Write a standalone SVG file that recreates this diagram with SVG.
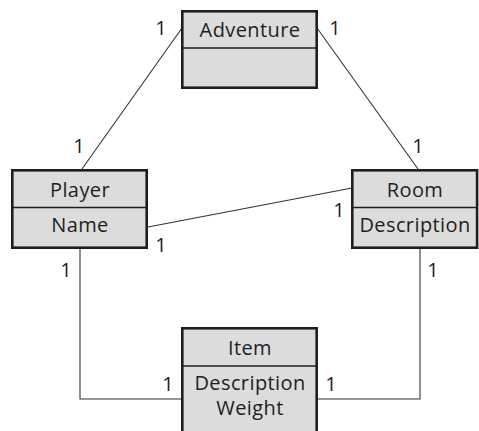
<svg xmlns="http://www.w3.org/2000/svg" width="479" height="431" viewBox="0 0 479 431">
  <style>
    .box { fill: #dcdcdc; stroke: #1e1e1e; stroke-width: 2.6; }
    .div { stroke: #1e1e1e; stroke-width: 1.5; }
    .name { font-family: "Open Sans", "Noto Sans", sans-serif; font-size: 20px; fill: #1e1e1e; text-anchor: middle; letter-spacing: 0.4px; }
    .mult { font-family: "Open Sans", "Noto Sans", sans-serif; font-size: 20px; fill: #1e1e1e; text-anchor: middle; }
    .conn { fill: none; stroke: #333; stroke-width: 1.1; }
  </style>
  <rect width="479" height="431" fill="#ffffff"/>

  <g id="connectors">
    <line class="conn" x1="182" y1="28" x2="82" y2="169"/>
    <line class="conn" x1="317" y1="28" x2="418" y2="169"/>
    <line class="conn" x1="148" y1="227" x2="352" y2="188"/>
    <polyline class="conn" points="80,249 80,399 182,399"/>
    <polyline class="conn" points="420,249 420,399 317,399"/>
  </g>

  <g id="multiplicities">
    <text class="mult" x="161" y="35">1</text>
    <text class="mult" x="335" y="35">1</text>
    <text class="mult" x="79" y="153">1</text>
    <text class="mult" x="418" y="153">1</text>
    <text class="mult" x="339" y="217">1</text>
    <text class="mult" x="161" y="252">1</text>
    <text class="mult" x="66" y="277">1</text>
    <text class="mult" x="433" y="277">1</text>
    <text class="mult" x="168" y="391">1</text>
    <text class="mult" x="331" y="391">1</text>
  </g>

  <g id="adventure">
    <rect class="box" x="182.3" y="11.3" width="134.4" height="76.4"/>
    <line class="div" x1="182" y1="48" x2="317" y2="48"/>
    <text class="name" x="250" y="37">Adventure</text>
  </g>

  <g id="player">
    <rect class="box" x="12.3" y="170.3" width="134.4" height="77.4"/>
    <line class="div" x1="12" y1="207.5" x2="147" y2="207.5"/>
    <text class="name" x="80" y="197">Player</text>
    <text class="name" x="80" y="232">Name</text>
  </g>

  <g id="room">
    <rect class="box" x="352.3" y="170.3" width="124.8" height="77.4"/>
    <line class="div" x1="352" y1="207.5" x2="477" y2="207.5"/>
    <text class="name" x="415" y="197">Room</text>
    <text class="name" x="415" y="232">Description</text>
  </g>

  <g id="item">
    <rect class="box" x="182.3" y="328.3" width="134.4" height="110"/>
    <line class="div" x1="182" y1="366" x2="317" y2="366"/>
    <text class="name" x="250" y="355">Item</text>
    <text class="name" x="250" y="390">Description</text>
    <text class="name" x="250" y="415">Weight</text>
  </g>
</svg>
